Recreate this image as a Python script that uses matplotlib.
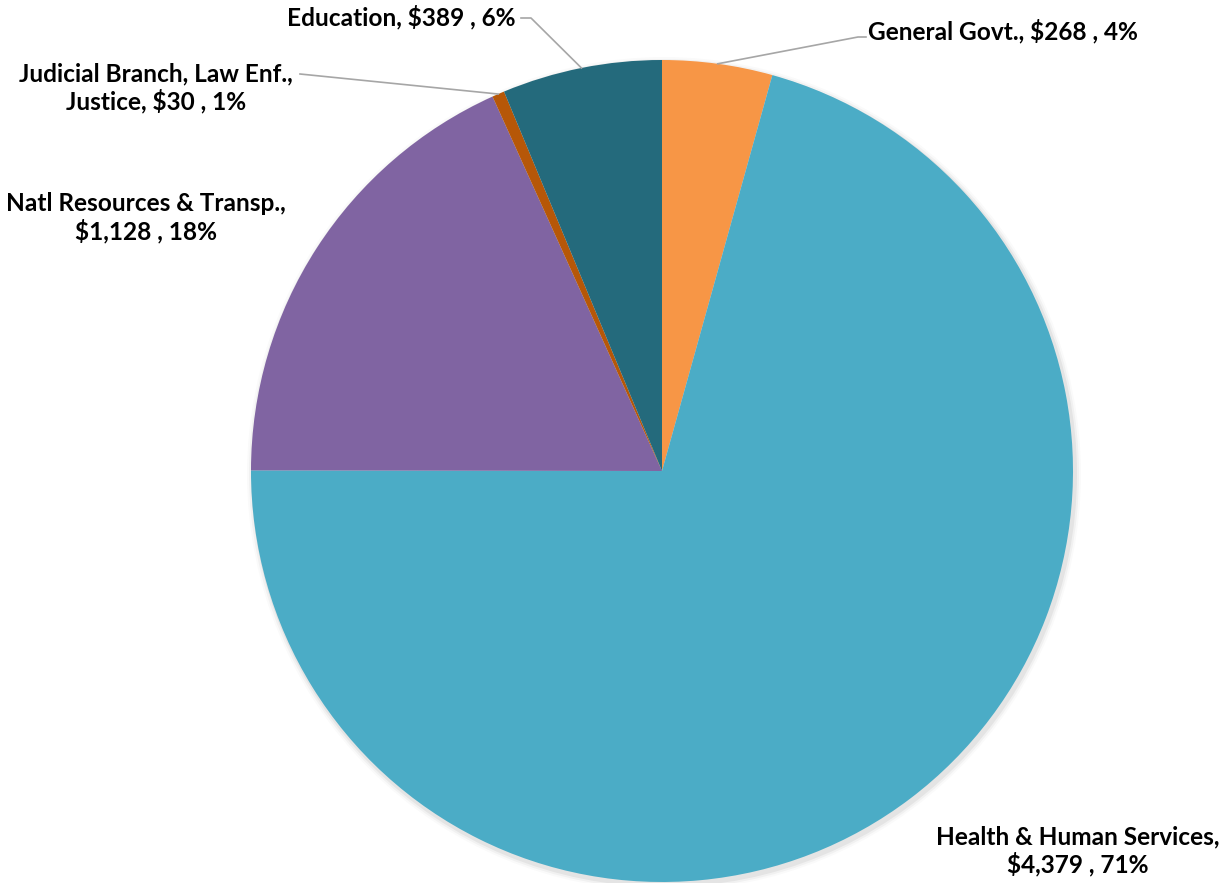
import numpy as np
import matplotlib

matplotlib.use("Agg")
import matplotlib.pyplot as plt

categories = [
    "General Govt.",
    "Health & Human Services",
    "Natl Resources & Transp.",
    "Judicial Branch, Law Enf., Justice",
    "Education",
]
values = [268, 4379, 1128, 30, 389]
percents = [4, 71, 18, 1, 6]
colors = ["#F79646", "#4BACC6", "#8064A2", "#B65708", "#246A7C"]

W, H = 1222, 883
CX, CY, R = 662, H - 471, 411

fig = plt.figure(figsize=(W / 100, H / 100), dpi=100)
ax = fig.add_axes([0, 0, 1, 1])
ax.set_xlim(0, W)
ax.set_ylim(0, H)
ax.set_aspect("equal")
ax.axis("off")

# faint shadow under the pie
for i, a in enumerate([0.05, 0.035, 0.02]):
    shadow = plt.Circle((CX + 2, CY - 3), R + 2 + i * 2, color="black", alpha=a, lw=0)
    ax.add_patch(shadow)

wedges, _ = ax.pie(
    values,
    colors=colors,
    startangle=90,
    counterclock=False,
    center=(CX, CY),
    radius=R,
    frame=True,
    wedgeprops=dict(linewidth=0),
)
ax.set_xlim(0, W)
ax.set_ylim(0, H)
ax.axis("off")

font = dict(family="Lato", fontweight="bold", fontsize=17.6, color="black")
LS = 1.2


def edge_point(i):
    w = wedges[i]
    ang = np.deg2rad((w.theta1 + w.theta2) / 2)
    return CX + R * np.cos(ang), CY + R * np.sin(ang)


def y(py):
    return H - py


# General Govt.
ax.text(868, y(31), f"{categories[0]}, ${values[0]:,} , {percents[0]}%",
        ha="left", va="center", **font)
ex, ey = edge_point(0)
ax.plot([ex, 858, 866], [ey, y(37), y(37)], color="#A6A6A6", lw=1.2)

# Health & Human Services
ax.text(1078, y(851), f"Health & Human Services,\n${values[1]:,} , {percents[1]}%",
        ha="center", va="center", linespacing=LS, **font)

# Natl Resources
ax.text(146, y(218), f"Natl Resources & Transp.,\n${values[2]:,} , {percents[2]}%",
        ha="center", va="center", linespacing=LS, **font)

# Judicial
ax.text(156, y(88), f"Judicial Branch, Law Enf.,\nJustice, ${values[3]:,} , {percents[3]}%",
        ha="center", va="center", linespacing=LS, **font)
ex, ey = edge_point(3)
ax.plot([ex, 300], [ey, y(74)], color="#A6A6A6", lw=1.2)

# Education
ax.text(516, y(17), f"{categories[4]}, ${values[4]:,} , {percents[4]}%",
        ha="right", va="center", **font)
ex, ey = edge_point(4)
ax.plot([ex, 531, 521], [ey, y(18), y(18)], color="#A6A6A6", lw=1.2)

fig.savefig("out.png", dpi=100)
